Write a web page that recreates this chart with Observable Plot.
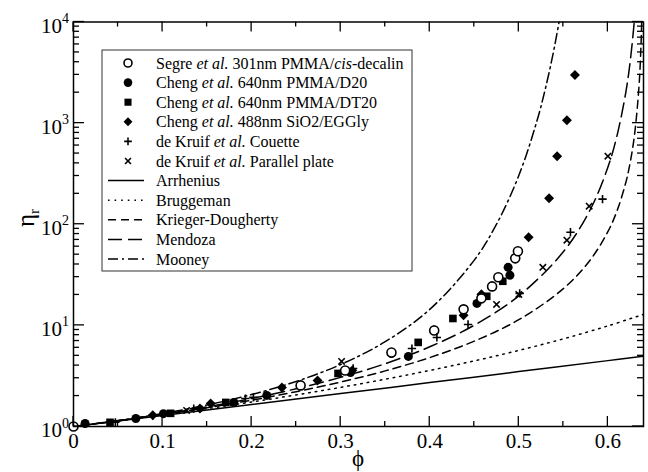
<!DOCTYPE html>
<html><head><meta charset="utf-8">
<script src="https://cdn.jsdelivr.net/npm/d3@7"></script>
<script src="https://cdn.jsdelivr.net/npm/@observablehq/plot@0.6"></script>
<style>body{margin:0;background:#fff}</style>
</head><body><div id="chart"></div>
<script>
// ---- data: experiments ----
const segrePhi = [0, 0.255, 0.305, 0.357, 0.405, 0.438, 0.458, 0.470, 0.477, 0.496, 0.499];
const segreEta = [1.0, 2.55, 3.58, 5.4, 8.9, 14.4, 18.5, 24.3, 29.9, 46, 54];
const chengD20Phi = [0.013, 0.070, 0.101, 0.180, 0.217, 0.311, 0.357, 0.376, 0.405, 0.453, 0.488, 0.490];
const chengD20Eta = [1.07, 1.2, 1.34, 1.73, 2.03, 3.42, 5.28, 4.93, 9.0, 16.5, 37.5, 31.3];
const chengDT20Phi = [0.041, 0.109, 0.171, 0.297, 0.387, 0.426, 0.464, 0.482];
const chengDT20Eta = [1.1, 1.35, 1.73, 3.35, 6.79, 11.7, 19.4, 27.3];
const chengSiO2Phi = [0.089, 0.142, 0.154, 0.234, 0.274, 0.313, 0.438, 0.458, 0.511, 0.534, 0.543, 0.554, 0.563];
const chengSiO2Eta = [1.29, 1.51, 1.69, 2.43, 2.85, 3.58, 12.6, 20.3, 74.3, 181, 471, 1070, 2985];
const couettePhi = [0.047, 0.089, 0.135, 0.193, 0.202, 0.314, 0.380, 0.408, 0.443, 0.501, 0.558, 0.594];
const couetteEta = [1.1, 1.29, 1.5, 1.89, 1.94, 3.75, 5.9, 7.6, 10.2, 20.7, 83.4, 177];
const platePhi = [0.127, 0.301, 0.475, 0.500, 0.527, 0.554, 0.579, 0.600];
const plateEta = [1.44, 4.4, 16.1, 20.2, 37.5, 69.5, 151, 471];

// ---- data: model curves ----
const arrPhi = [0, 0.1, 0.2, 0.3, 0.4, 0.5, 0.6, 0.64];
const arrEta = [1, 1.284, 1.649, 2.117, 2.718, 3.490, 4.482, 4.953];
const brugPhi = [0, 0.05, 0.1, 0.15, 0.2, 0.25, 0.3, 0.35, 0.4, 0.45, 0.5, 0.55, 0.6, 0.64];
const brugEta = [1, 1.137, 1.301, 1.501, 1.747, 2.053, 2.439, 2.936, 3.586, 4.458, 5.657, 7.36, 9.88, 12.86];
const kdPhi = [0, 0.05, 0.1, 0.15, 0.2, 0.25, 0.3, 0.35, 0.4, 0.45, 0.5, 0.55, 0.58, 0.6, 0.61, 0.62, 0.625, 0.63, 0.635, 0.637, 0.638, 0.639];
const kdEta = [1, 1.139, 1.312, 1.533, 1.821, 2.209, 2.751, 3.549, 4.804, 6.980, 11.38, 23.07, 44.13, 84.45, 133.8, 256.0, 405.7, 776, 2349, 5322, 10190, 30900];
const mendPhi = [0, 0.05, 0.1, 0.15, 0.2, 0.25, 0.3, 0.35, 0.4, 0.45, 0.5, 0.55, 0.58, 0.6, 0.61, 0.62, 0.625, 0.63, 0.632];
const mendEta = [1, 1.141, 1.323, 1.564, 1.893, 2.362, 3.062, 4.182, 6.139, 10.04, 19.57, 53.45, 138.4, 365.9, 735, 1985, 4025, 10980, 19100];
const moonPhi = [0, 0.05, 0.1, 0.15, 0.2, 0.25, 0.3, 0.35, 0.4, 0.45, 0.475, 0.5, 0.52, 0.53, 0.54, 0.55];
const moonEta = [1, 1.145, 1.345, 1.632, 2.070, 2.789, 4.104, 6.896, 14.39, 44.22, 100.1, 303.2, 1025, 2227, 5653, 17660];

// ---- ticks & labels ----
const xMajor = [0, 0.1, 0.2, 0.3, 0.4, 0.5, 0.6];
const xMinor = [0.05, 0.15, 0.25, 0.35, 0.45, 0.55];
const yMajor = [1, 10, 100, 1000, 10000];
const yExp = ["0", "1", "2", "3", "4"];
const yMinor = [2,3,4,5,6,7,8,9,20,30,40,50,60,70,80,90,200,300,400,500,600,700,800,900,2000,3000,4000,5000,6000,7000,8000,9000];
const xLabel = "ϕ";
const yLabel = "η";
const yLabelSub = "r";
const legendLabels = [
  "Segre *et al.* 301nm PMMA/*cis*-decalin",
  "Cheng *et al.* 640nm PMMA/D20",
  "Cheng *et al.* 640nm PMMA/DT20",
  "Cheng *et al.* 488nm SiO2/EGGly",
  "de Kruif *et al.* Couette",
  "de Kruif *et al.* Parallel plate",
  "Arrhenius",
  "Bruggeman",
  "Krieger-Dougherty",
  "Mendoza",
  "Mooney"
];

const rows = (xs, ys) => xs.map((x, i) => ({phi: x, eta: ys[i]}));
const FONT = "'Liberation Serif', 'Times New Roman', serif";

const curves = [
  {d: rows(arrPhi, arrEta), dash: null},
  {d: rows(brugPhi, brugEta), dash: "1.6,5"},
  {d: rows(kdPhi, kdEta), dash: "8,5"},
  {d: rows(mendPhi, mendEta), dash: "14,6"},
  {d: rows(moonPhi, moonEta), dash: "10,4,2,4"}
];

const plot = Plot.plot({
  width: 648, height: 472,
  marginLeft: 73, marginRight: 5, marginTop: 21.5, marginBottom: 46,
  style: {fontFamily: FONT, background: "white", color: "black"},
  x: {domain: [0, 0.64], label: null},
  y: {type: "log", domain: [1, 10000], label: null},
  marks: [
    ...curves.map(c => Plot.line(c.d, {x: "phi", y: "eta", stroke: "black", strokeWidth: 1.5,
        strokeDasharray: c.dash, curve: "catmull-rom", clip: true})),
    Plot.dot(rows(chengD20Phi, chengD20Eta), {x: "phi", y: "eta", symbol: "circle", fill: "black", r: 4.5}),
    Plot.dot(rows(chengDT20Phi, chengDT20Eta), {x: "phi", y: "eta", symbol: "square", fill: "black", r: 4.3}),
    Plot.dot(rows(chengSiO2Phi, chengSiO2Eta), {x: "phi", y: "eta", symbol: "diamond2", fill: "black", stroke: "none", r: 4.5}),
    Plot.dot(rows(segrePhi, segreEta), {x: "phi", y: "eta", symbol: "circle", fill: "white", stroke: "black", strokeWidth: 1.6, r: 4.5}),
    Plot.dot(rows(couettePhi, couetteEta), {x: "phi", y: "eta", symbol: "plus", fill: "none", stroke: "black", strokeWidth: 1.6, r: 2.8}),
    Plot.dot(rows(platePhi, plateEta), {x: "phi", y: "eta", symbol: "times", fill: "none", stroke: "black", strokeWidth: 1.6, r: 3}),
    Plot.frame({stroke: "black", strokeWidth: 1.5}),
    Plot.axisX({anchor: "bottom", ticks: xMajor, tickSize: 0, tickPadding: 7, fontSize: 21, label: null,
        tickFormat: d => d === 0 ? "0" : String(d)}),
    Plot.axisY({anchor: "left", ticks: [], label: null})
  ]
});
document.getElementById("chart").appendChild(plot);

const svg = d3.select(plot);
const sx = plot.scale("x"), sy = plot.scale("y");
const [xL, xR] = sx.range, [yB, yT] = sy.range;

// inward ticks on all four sides, placed through Plot's scales
const tg = svg.append("g").attr("stroke", "black").attr("stroke-width", 1.3);
const tick = (x1, y1, x2, y2) => tg.append("line").attr("x1", x1).attr("y1", y1).attr("x2", x2).attr("y2", y2);
xMajor.forEach(v => { const x = sx.apply(v); tick(x, yB, x, yB - 10); tick(x, yT, x, yT + 10); });
xMinor.forEach(v => { const x = sx.apply(v); tick(x, yB, x, yB - 5); tick(x, yT, x, yT + 5); });
yMajor.forEach(v => { const y = sy.apply(v); tick(xL, y, xL + 11, y); tick(xR, y, xR - 11, y); });
yMinor.forEach(v => { const y = sy.apply(v); tick(xL, y, xL + 6, y); tick(xR, y, xR - 6, y); });

// y tick labels 10^n
const yt = svg.append("g").attr("font-family", FONT).attr("text-anchor", "end").attr("fill", "black");
yMajor.forEach((v, i) => {
  const t = yt.append("text").attr("x", xL - 4).attr("y", sy.apply(v) + 11).attr("font-size", 21);
  t.append("tspan").text("10");
  t.append("tspan").attr("font-size", 14).attr("dy", -9.5).text(yExp[i]);
});

// axis titles
svg.append("text").attr("x", 358).attr("y", 466).attr("text-anchor", "middle")
  .attr("font-family", FONT).attr("font-size", 23).text(xLabel);
const yl = svg.append("text").attr("transform", "translate(34,218) rotate(-90)").attr("text-anchor", "middle")
  .attr("font-family", FONT).attr("font-size", 25);
yl.append("tspan").text(yLabel);
yl.append("tspan").attr("font-size", 15).attr("dy", 5).text(yLabelSub);

// legend
const lg = svg.append("g").attr("font-family", FONT).attr("font-size", 16).attr("text-anchor", "start");
lg.append("rect").attr("x", 102).attr("y", 50).attr("width", 310).attr("height", 221)
  .attr("fill", "white").attr("stroke", "#333").attr("stroke-width", 1);
const symDefs = [
  {type: d3.symbolCircle, size: Math.PI * 4 * 4, fill: "white", stroke: "black", sw: 1.6},
  {type: d3.symbolCircle, size: Math.PI * 4.3 * 4.3, fill: "black", stroke: "none", sw: 0},
  {type: d3.symbolSquare, size: Math.PI * 4 * 4, fill: "black", stroke: "none", sw: 0},
  {type: d3.symbolDiamond2, size: Math.PI * 4 * 4, fill: "black", stroke: "none", sw: 0},
  {type: d3.symbolPlus, size: Math.PI * 2.6 * 2.6, fill: "none", stroke: "black", sw: 1.6},
  {type: d3.symbolTimes, size: Math.PI * 2.8 * 2.8, fill: "none", stroke: "black", sw: 1.6}
];
legendLabels.forEach((lab, i) => {
  const cy = 63 + i * 19.6;
  if (i < 6) {
    const s = symDefs[i];
    lg.append("path").attr("transform", `translate(128,${cy})`)
      .attr("d", d3.symbol(s.type, s.size)()).attr("fill", s.fill).attr("stroke", s.stroke).attr("stroke-width", s.sw);
  } else {
    const c = curves[i - 6];
    lg.append("line").attr("x1", 108).attr("x2", 144).attr("y1", cy).attr("y2", cy)
      .attr("stroke", "black").attr("stroke-width", 1.5).attr("stroke-dasharray", c.dash);
  }
  const t = lg.append("text").attr("x", 156).attr("y", cy + 5.5).attr("fill", "black");
  lab.split("*").forEach((part, k) => {
    if (part) t.append("tspan").attr("font-style", k % 2 ? "italic" : "normal").text(part);
  });
});
</script>
</body></html>
